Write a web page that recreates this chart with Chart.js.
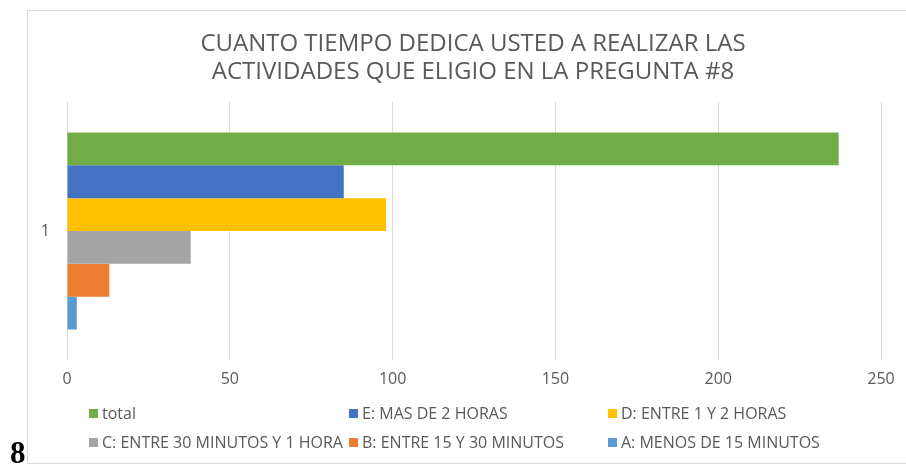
<!DOCTYPE html>
<html>
<head>
<meta charset="utf-8">
<script src="https://cdn.jsdelivr.net/npm/chart.js@4"></script>
<style>
  html, body { margin: 0; padding: 0; background: #fff; }
  #wrap { position: relative; width: 906px; height: 464px; overflow: hidden; }
  #frame { position: absolute; left: 27px; top: 10px; width: 1000px; height: 454px; border: 1px solid #d9d9d9; border-right: none; box-sizing: border-box; }
  #chartBox { position: absolute; left: 0; top: 0; width: 906px; height: 400px; }
  #title { position: absolute; left: 0; top: 28px; width: 946px; text-align: center; font-family: "Open Sans", sans-serif; font-size: 24px; line-height: 28px; color: #595959; }
  #legend { position: absolute; left: 0; top: 0; width: 906px; height: 464px; font-family: "Open Sans", sans-serif; font-size: 16px; color: #595959; pointer-events: none; }
  .leg-item { position: absolute; white-space: nowrap; line-height: 20px; display: flex; align-items: center; }
  .leg-box { display: inline-block; width: 9px; height: 9px; margin-right: 4px; }
  #page8 { position: absolute; left: 10px; top: 437px; font-family: "Liberation Serif", serif; font-weight: bold; font-size: 31px; line-height: 31px; color: #000; }
</style>
</head>
<body>
<div id="wrap">
  <div id="frame"></div>
  <div id="chartBox"><canvas id="chart"></canvas></div>
  <div id="title"></div>
  <div id="legend"></div>
  <div id="page8">8</div>
</div>
<script>
// categories + series
const categories = ["1"];
const seriesNames = [
  "total",
  "E: MAS DE 2 HORAS",
  "D: ENTRE 1 Y 2 HORAS",
  "C: ENTRE 30 MINUTOS Y 1 HORA",
  "B: ENTRE 15 Y 30 MINUTOS",
  "A: MENOS DE 15 MINUTOS"
];
const seriesValues = [237, 85, 98, 38, 13, 3];
const seriesColors = ["#70AD47", "#4472C4", "#FFC000", "#A5A5A5", "#ED7D31", "#5B9BD5"];
const xTicks = [0, 50, 100, 150, 200, 250];
const titleLines = [
  "CUANTO TIEMPO DEDICA USTED A REALIZAR LAS",
  "ACTIVIDADES QUE ELIGIO EN LA PREGUNTA #8"
];

const FONT = "'Open Sans', sans-serif";
const TXT = "#595959";

document.getElementById("title").innerHTML = titleLines.join("<br>");

const datasets = seriesNames.map((name, i) => ({
  label: name,
  data: [seriesValues[i]],
  backgroundColor: seriesColors[i],
  barPercentage: 1,
  categoryPercentage: 0.764
}));

const chart = new Chart(document.getElementById("chart"), {
  type: "bar",
  data: { labels: categories, datasets },
  options: {
    indexAxis: "y",
    responsive: true,
    maintainAspectRatio: false,
    animation: false,
    layout: { padding: { left: 30, right: 25, top: 102, bottom: 10 } },
    plugins: {
      legend: { display: false },
      tooltip: { enabled: false },
      title: { display: false }
    },
    scales: {
      x: {
        min: 0,
        max: 250,
        afterBuildTicks(scale) { scale.ticks = xTicks.map(v => ({ value: v })); },
        afterFit(scale) { scale.height = 30; },
        grid: { color: "#d9d9d9", lineWidth: 1, drawTicks: false },
        border: { display: false },
        ticks: { color: TXT, font: { family: FONT, size: 16 }, padding: 10 }
      },
      y: {
        afterFit(scale) { scale.width = 37; },
        grid: { display: false, drawTicks: false },
        border: { display: false },
        ticks: { color: TXT, font: { family: FONT, size: 16 }, padding: 17 }
      }
    }
  }
});

// legend: 3 columns, 2 rows (dataset order)
const legendCols = [89, 349, 608];
const legendRows = [403, 432];
const legendEl = document.getElementById("legend");
chart.data.datasets.forEach((ds, i) => {
  const item = document.createElement("div");
  item.className = "leg-item";
  item.style.left = legendCols[i % 3] + "px";
  item.style.top = legendRows[Math.floor(i / 3)] + "px";
  const box = document.createElement("span");
  box.className = "leg-box";
  box.style.background = ds.backgroundColor;
  item.appendChild(box);
  item.appendChild(document.createTextNode(ds.label));
  legendEl.appendChild(item);
});
</script>
</body>
</html>
